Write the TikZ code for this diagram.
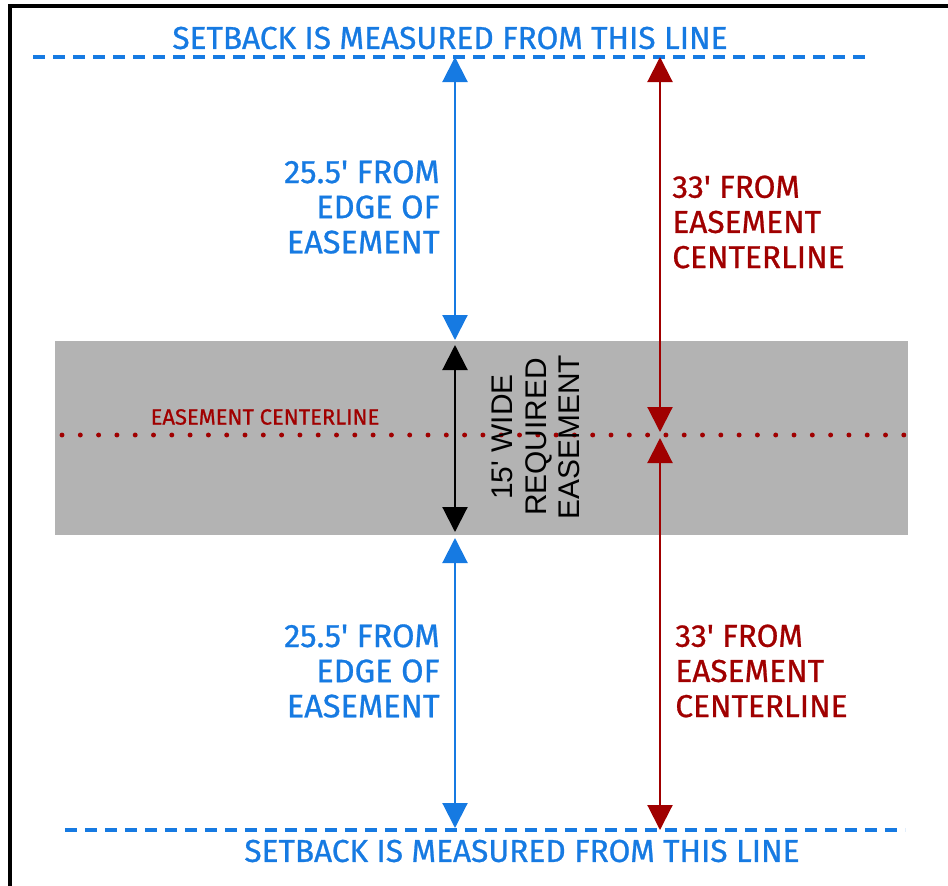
\documentclass[tikz,border=0pt]{standalone}
\usepackage{fontspec}
\setmainfont{Fira Sans}
\newfontfamily\sketchfont{Fira Sans}[FakeBold=0.8]
\newfontfamily\easefont{Liberation Sans}
\usetikzlibrary{arrows.meta}
\definecolor{setblue}{RGB}{22,122,226}
\definecolor{linered}{RGB}{160,0,0}
\definecolor{easegray}{RGB}{179,179,179}

\begin{document}
\begin{tikzpicture}[
    dimline/.style={line width=1.2pt, {Triangle[length=5mm,width=5mm]}-{Triangle[length=5mm,width=5mm]}},
    setline/.style={setblue, line width=2pt, dash pattern=on 2.4mm off 1.6mm},
    bluelabel/.style={setblue, font=\sketchfont\fontsize{18.5}{20}\selectfont, align=right, inner sep=0pt},
    redlabel/.style={linered, font=\sketchfont\fontsize{18}{20}\selectfont, align=left, inner sep=0pt},
    setlabel/.style={setblue, font=\sketchfont\fontsize{18}{20}\selectfont, inner sep=0pt}
]
    \useasboundingbox (0,0) rectangle (18.96,-17.72);
    \draw[line width=2pt] (0.2,-17.72) -- (0.2,-0.12) -- (18.96,-0.12);

    \fill[easegray] (1.1,-6.82) rectangle (18.16,-10.7);

    \coordinate (topL) at (0.66,-1.14);
    \coordinate (topR) at (17.4,-1.14);
    \coordinate (botL) at (1.3,-16.6);
    \coordinate (botR) at (18.1,-16.6);
    \draw[setline] (topL) -- (topR);
    \draw[setline] (botL) -- (botR);

    \node[setlabel] (toptext) at (9.0,-0.76) {SETBACK IS MEASURED FROM THIS LINE};
    \node[setlabel] (bottext) at (10.44,-17.02) {SETBACK IS MEASURED FROM THIS LINE};

    \coordinate (cenL) at (1.24,-8.7);
    \coordinate (cenR) at (18.1,-8.7);
    \draw[linered, line width=2.8pt, line cap=round, dash pattern=on 0pt off 3.66mm] (cenL) -- (cenR);
    \node[linered, font=\sketchfont\fontsize{12.5}{14}\selectfont, inner sep=0pt] (centext) at (5.3,-8.34) {EASEMENT CENTERLINE};

    \coordinate (bTopA) at (9.1,-1.14);
    \coordinate (bTopB) at (9.1,-6.8);
    \coordinate (kTop) at (9.1,-6.9);
    \coordinate (kBot) at (9.1,-10.64);
    \coordinate (bBotA) at (9.1,-10.76);
    \coordinate (bBotB) at (9.1,-16.56);
    \draw[dimline, setblue] (bTopA) -- (bTopB);
    \draw[dimline, black] (kTop) -- (kBot);
    \draw[dimline, setblue] (bBotA) -- (bBotB);

    \coordinate (rTopA) at (13.2,-1.14);
    \coordinate (rTopB) at (13.2,-8.64);
    \coordinate (rBotA) at (13.2,-8.76);
    \coordinate (rBotB) at (13.2,-16.6);
    \draw[dimline, linered] (rTopA) -- (rTopB);
    \draw[dimline, linered] (rBotA) -- (rBotB);

    \node[bluelabel, anchor=east] (bluetop) at (8.8,-4.14) {25.5\textquotesingle{} FROM\\EDGE OF\\EASEMENT};
    \node[bluelabel, anchor=east] (bluebot) at (8.8,-13.42) {25.5\textquotesingle{} FROM\\EDGE OF\\EASEMENT};
    \node[redlabel, anchor=west] (redtop) at (13.44,-4.44) {33\textquotesingle{} FROM\\EASEMENT\\CENTERLINE};
    \node[redlabel, anchor=west] (redbot) at (13.5,-13.42) {33\textquotesingle{} FROM\\EASEMENT\\CENTERLINE};

    \node[rotate=90, align=center, inner sep=0pt, font=\easefont\fontsize{17}{19}\selectfont] (widetext) at (10.72,-8.74) {15\textquotesingle{} WIDE\\REQUIRED\\EASEMENT};
\end{tikzpicture}
\end{document}
